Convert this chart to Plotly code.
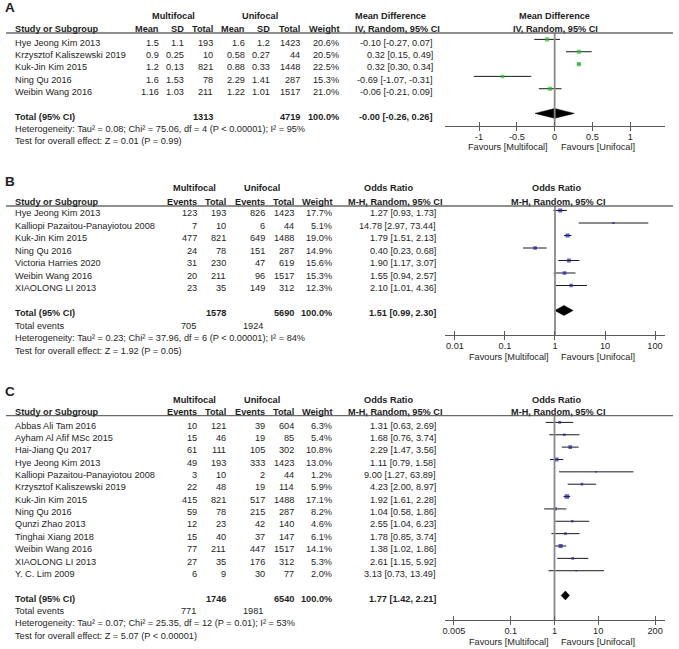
import plotly.graph_objects as go

W, H = 679, 649
FONT = "Liberation Sans, Arial, sans-serif"
FS = 9.2
TXT = "#1e1e1e"

# ---------------- Panel A data ----------------
studies_a = ["Hye Jeong Kim 2013", "Krzysztof Kaliszewski 2019", "Kuk-Jin Kim 2015",
             "Ning Qu 2016", "Weibin Wang 2016"]
mf_mean_a = [1.5, 0.9, 1.2, 1.6, 1.16]
mf_sd_a = [1.1, 0.25, 0.13, 1.53, 1.03]
mf_n_a = [193, 10, 821, 78, 211]
uf_mean_a = [1.6, 0.58, 0.88, 2.29, 1.22]
uf_sd_a = [1.2, 0.27, 0.33, 1.41, 1.01]
uf_n_a = [1423, 44, 1448, 287, 1517]
weight_a = [20.6, 20.5, 22.5, 15.3, 21.0]
md_a = [-0.10, 0.32, 0.32, -0.69, -0.06]
md_lo_a = [-0.27, 0.15, 0.30, -1.07, -0.21]
md_hi_a = [0.07, 0.49, 0.34, -0.31, 0.09]
tot_mf_a, tot_uf_a = 1313, 4719
tot_md_a, tot_lo_a, tot_hi_a = -0.001, -0.26, 0.26
het_a = "Heterogeneity: Tau² = 0.08; Chi² = 75.06, df = 4 (P &lt; 0.00001); I² = 95%"
test_a = "Test for overall effect: Z = 0.01 (P = 0.99)"
ticks_a = [-1, -0.5, 0, 0.5, 1]
ticklabels_a = ["-1", "-0.5", "0", "0.5", "1"]

# ---------------- Panel B data ----------------
studies_b = ["Hye Jeong Kim 2013", "Kalliopi Pazaitou-Panayiotou 2008", "Kuk-Jin Kim 2015",
             "Ning Qu 2016", "Victoria Harries 2020", "Weibin Wang 2016", "XIAOLONG LI 2013"]
mf_ev_b = [123, 7, 477, 24, 31, 20, 23]
mf_tot_b = [193, 10, 821, 78, 230, 211, 35]
uf_ev_b = [826, 6, 649, 151, 47, 96, 149]
uf_tot_b = [1423, 44, 1488, 287, 619, 1517, 312]
weight_b = [17.7, 5.1, 19.0, 14.9, 15.6, 15.3, 12.3]
or_b = [1.27, 14.78, 1.79, 0.40, 1.90, 1.55, 2.10]
or_lo_b = [0.93, 2.97, 1.51, 0.23, 1.17, 0.94, 1.01]
or_hi_b = [1.73, 73.44, 2.13, 0.68, 3.07, 2.57, 4.36]
tot_mf_b, tot_uf_b = 1578, 5690
tot_ev_mf_b, tot_ev_uf_b = 705, 1924
tot_or_b, tot_lo_b, tot_hi_b = 1.51, 0.99, 2.30
het_b = "Heterogeneity: Tau² = 0.23; Chi² = 37.96, df = 6 (P &lt; 0.00001); I² = 84%"
test_b = "Test for overall effect: Z = 1.92 (P = 0.05)"
ticks_b = [0.01, 0.1, 1, 10, 100]
ticklabels_b = ["0.01", "0.1", "1", "10", "100"]

# ---------------- Panel C data ----------------
studies_c = ["Abbas Ali Tam 2016", "Ayham Al Afif MSc 2015", "Hai-Jiang Qu 2017",
             "Hye Jeong Kim 2013", "Kalliopi Pazaitou-Panayiotou 2008",
             "Krzysztof Kaliszewski 2019", "Kuk-Jin Kim 2015", "Ning Qu 2016",
             "Qunzi Zhao 2013", "Tinghai Xiang 2018", "Weibin Wang 2016",
             "XIAOLONG LI 2013", "Y. C. Lim 2009"]
mf_ev_c = [10, 15, 61, 49, 3, 22, 415, 59, 12, 15, 77, 27, 6]
mf_tot_c = [121, 46, 111, 193, 10, 48, 821, 78, 23, 40, 211, 35, 9]
uf_ev_c = [39, 19, 105, 333, 2, 19, 517, 215, 42, 37, 447, 176, 30]
uf_tot_c = [604, 85, 302, 1423, 44, 114, 1488, 287, 140, 147, 1517, 312, 77]
weight_c = [6.3, 5.4, 10.8, 13.0, 1.2, 5.9, 17.1, 8.2, 4.6, 6.1, 14.1, 5.3, 2.0]
or_c = [1.31, 1.68, 2.29, 1.11, 9.00, 4.23, 1.92, 1.04, 2.55, 1.78, 1.38, 2.61, 3.13]
or_lo_c = [0.63, 0.76, 1.47, 0.79, 1.27, 2.00, 1.61, 0.58, 1.04, 0.85, 1.02, 1.15, 0.73]
or_hi_c = [2.69, 3.74, 3.56, 1.58, 63.89, 8.97, 2.28, 1.86, 6.23, 3.74, 1.86, 5.92, 13.49]
tot_mf_c, tot_uf_c = 1746, 6540
tot_ev_mf_c, tot_ev_uf_c = 771, 1981
tot_or_c, tot_lo_c, tot_hi_c = 1.77, 1.42, 2.21
het_c = "Heterogeneity: Tau² = 0.07; Chi² = 25.35, df = 12 (P = 0.01); I² = 53%"
test_c = "Test for overall effect: Z = 5.07 (P &lt; 0.00001)"
ticks_c = [0.005, 0.1, 1, 10, 200]
ticklabels_c = ["0.005", "0.1", "1", "10", "200"]

# ---------------- helpers ----------------
annotations = []
shapes = []


def ann(text, x, y, anchor="left", bold=False, size=FS):
    annotations.append(dict(
        text=f"<b>{text}</b>" if bold else text,
        x=x / W, y=1 - y / H, xref="paper", yref="paper",
        xanchor=anchor, yanchor="middle", showarrow=False,
        font=dict(family=FONT, size=size, color=TXT)))


def hline(y, x0=4, x1=673):
    shapes.append(dict(type="line", xref="paper", yref="paper",
                       x0=x0 / W, x1=x1 / W, y0=1 - y / H, y1=1 - y / H,
                       line=dict(color="#6a6a6a", width=1.3)))


def ci(v, lo, hi):
    return f"{v:.2f} [{lo:.2f}, {hi:.2f}]"


fig = go.Figure()

# layout geometry (pixels)
X0, X1 = 444, 665
panels = {
    "A": dict(text_top=42.7, mark_top=39.4, step=12.33, line_y=33.0, axis_y=126.0,
              grp_y=16.0, hdr_y=29.3, letter_y=8.0, fav_y=146.7),
    "B": dict(text_top=213.3, mark_top=210.5, step=12.5, line_y=206.0, axis_y=335.0,
              grp_y=188.3, hdr_y=201.5, letter_y=181.7, fav_y=357),
    "C": dict(text_top=425.6, mark_top=422.4, step=12.36, line_y=415.7, axis_y=620.0,
              grp_y=400.0, hdr_y=411.7, letter_y=391.0, fav_y=642),
}


def trow(p, i):
    return p["text_top"] + p["step"] * i


def yrange(p):
    return [(p["axis_y"] - p["mark_top"]) / p["step"], (p["line_y"] - p["mark_top"]) / p["step"]]


# ================= Panel A text =================
pA = panels["A"]
ann("A", 1.5, pA["letter_y"], bold=True, size=13.5)
ann("Multifocal", 172.5, pA["grp_y"], "center", True)
ann("Unifocal", 258.3, pA["grp_y"], "center", True)
ann("Mean Difference", 351.7, pA["grp_y"], "left", True)
ann("Mean Difference", 553.7, pA["grp_y"], "center", True)
colsA = [("Mean", 159), ("SD", 185), ("Total", 214), ("Mean", 246), ("SD", 271),
         ("Total", 301), ("Weight", 340)]
ann("Study or Subgroup", 11, pA["hdr_y"], "left", True)
for t, x in colsA:
    ann(t, x, pA["hdr_y"], "right", True)
ann("IV, Random, 95% CI", 351.7, pA["hdr_y"], "left", True)
ann("IV, Random, 95% CI", 555.5, pA["hdr_y"], "center", True)
hline(pA["line_y"])
for i, s in enumerate(studies_a):
    y = trow(pA, i)
    ann(s, 11, y)
    vals = [f"{mf_mean_a[i]:g}", f"{mf_sd_a[i]:g}", str(mf_n_a[i]),
            f"{uf_mean_a[i]:g}", f"{uf_sd_a[i]:g}", str(uf_n_a[i]),
            f"{weight_a[i]:.1f}%"]
    for v, (_, x) in zip(vals, colsA):
        ann(v, x, y, "right")
    ann(ci(md_a[i], md_lo_a[i], md_hi_a[i]), 434, y, "right")
nA = len(studies_a)
y = trow(pA, nA + 1)
ann("Total (95% CI)", 11, y, "left", True)
ann(str(tot_mf_a), 214, y, "right", True)
ann(str(tot_uf_a), 301, y, "right", True)
ann("100.0%", 340, y, "right", True)
ann(ci(tot_md_a, tot_lo_a, tot_hi_a), 434, y, "right", True)
ann(het_a, 11, trow(pA, nA + 2))
ann(test_a, 11, trow(pA, nA + 3))
ann("Favours [Multifocal]", 550, pA["fav_y"], "right")
ann("Favours [Unifocal]", 559, pA["fav_y"], "left")


# ================= Panels B, C text =================
def binary_text(p, letter, studies, mf_ev, mf_tot, uf_ev, uf_tot, weight, est, lo, hi,
                tmf, tuf, tev_mf, tev_uf, test_est, test_lo, test_hi, het, testtxt):
    ann(letter, 1.5, p["letter_y"], bold=True, size=13.5)
    ann("Multifocal", 193.3, p["grp_y"], "center", True)
    ann("Unifocal", 260.5, p["grp_y"], "center", True)
    ann("Odds Ratio", 361, p["grp_y"], "left", True)
    ann("Odds Ratio", 556, p["grp_y"], "center", True)
    cols = [("Events", 198), ("Total", 227), ("Events", 266), ("Total", 295), ("Weight", 333)]
    ann("Study or Subgroup", 11, p["hdr_y"], "left", True)
    for t, x in cols:
        ann(t, x, p["hdr_y"], "right", True)
    ann("M-H, Random, 95% CI", 345, p["hdr_y"], "left", True)
    ann("M-H, Random, 95% CI", 558, p["hdr_y"], "center", True)
    hline(p["line_y"])
    for i, s in enumerate(studies):
        y = trow(p, i)
        ann(s, 11, y)
        vals = [str(mf_ev[i]), str(mf_tot[i]), str(uf_ev[i]), str(uf_tot[i]), f"{weight[i]:.1f}%"]
        for v, (_, x) in zip(vals, cols):
            ann(v, x, y, "right")
        ann(ci(est[i], lo[i], hi[i]), 437, y, "right")
    n = len(studies)
    y = trow(p, n + 1)
    ann("Total (95% CI)", 11, y, "left", True)
    ann(str(tmf), 227, y, "right", True)
    ann(str(tuf), 295, y, "right", True)
    ann("100.0%", 333, y, "right", True)
    ann(ci(test_est, test_lo, test_hi), 437, y, "right", True)
    y = trow(p, n + 2)
    ann("Total events", 11, y)
    ann(str(tev_mf), 197, y, "right")
    ann(str(tev_uf), 263.5, y, "right")
    ann(het, 11, trow(p, n + 3))
    ann(testtxt, 11, trow(p, n + 4))
    ann("Favours [Multifocal]", 551, p["fav_y"], "right")
    ann("Favours [Unifocal]", 559, p["fav_y"], "left")


binary_text(panels["B"], "B", studies_b, mf_ev_b, mf_tot_b, uf_ev_b, uf_tot_b, weight_b,
            or_b, or_lo_b, or_hi_b, tot_mf_b, tot_uf_b, tot_ev_mf_b, tot_ev_uf_b,
            tot_or_b, tot_lo_b, tot_hi_b, het_b, test_b)
binary_text(panels["C"], "C", studies_c, mf_ev_c, mf_tot_c, uf_ev_c, uf_tot_c, weight_c,
            or_c, or_lo_c, or_hi_c, tot_mf_c, tot_uf_c, tot_ev_mf_c, tot_ev_uf_c,
            tot_or_c, tot_lo_c, tot_hi_c, het_c, test_c)


# ================= forest traces =================
def forest(xa, ya, xo, p, est, lo, hi, weight, color, scale, t_est, t_lo, t_hi, null_val, dh):
    n = len(est)
    yr = yrange(p)
    fig.add_trace(go.Scatter(x=[null_val, null_val], y=[yr[0], yr[1]], mode="lines",
                             line=dict(color="#8a8a8a", width=1.8), xaxis=xo, yaxis=ya,
                             hoverinfo="skip", showlegend=False))
    cx, cy = [], []
    for i in range(n):
        cx += [lo[i], hi[i], None]
        cy += [i, i, None]
    fig.add_trace(go.Scatter(x=cx, y=cy, mode="lines", line=dict(color="#1a1a1a", width=1),
                             xaxis=xa, yaxis=ya, hoverinfo="skip", showlegend=False))
    fig.add_trace(go.Scatter(x=est, y=list(range(n)), mode="markers",
                             marker=dict(symbol="square", color=color,
                                         size=[max(1.6, scale * w ** 0.5) for w in weight],
                                         line=dict(width=0)),
                             xaxis=xa, yaxis=ya, hoverinfo="skip", showlegend=False))
    ty = n + 1
    fig.add_trace(go.Scatter(x=[t_lo, t_est, t_hi, t_est, t_lo],
                             y=[ty, ty - dh, ty, ty + dh, ty], mode="lines", fill="toself",
                             fillcolor="black", line=dict(color="black", width=0.5),
                             xaxis=xa, yaxis=ya, hoverinfo="skip", showlegend=False))


forest("x", "y", "x4", panels["A"], md_a, md_lo_a, md_hi_a, weight_a, "#1fbf1f", 0.9,
       tot_md_a, tot_lo_a, tot_hi_a, 0, 0.4)
forest("x2", "y2", "x5", panels["B"], or_b, or_lo_b, or_hi_b, weight_b, "#1c1ca8", 0.95,
       tot_or_b, tot_lo_b, tot_hi_b, 1, 0.4)
forest("x3", "y3", "x6", panels["C"], or_c, or_lo_c, or_hi_c, weight_c, "#1c1ca8", 1.1,
       tot_or_c, tot_lo_c, tot_hi_c, 1, 0.36)

dom_x = [X0 / W, X1 / W]
AX = "#5a5a5a"


def xax(rng, tv, tt, typ, anchor, overlay=None):
    d = dict(domain=dom_x, range=rng, type=typ, anchor=anchor, tickmode="array",
             tickvals=tv, ticktext=tt, showgrid=False, zeroline=False, fixedrange=True,
             tickcolor=AX, tickwidth=1.2, ticklen=3.5,
             tickfont=dict(family=FONT, size=FS, color=TXT))
    if overlay is None:
        # main axis: line, labels, tick half above the line
        d.update(showline=True, linecolor=AX, linewidth=1.3, ticks="inside",
                 ticklabelstandoff=2)
    else:
        # overlay axis: tick half below the line (no labels)
        d.update(overlaying=overlay, showline=False, ticks="outside", showticklabels=False)
    return d


def yax(p):
    return dict(domain=[1 - p["axis_y"] / H, 1 - p["line_y"] / H], range=yrange(p),
                visible=False, fixedrange=True)


rA = [-1.455, 1.46]
rB = [-2.205, 2.2]
rC = [-2.513, 2.529]

fig.update_layout(
    width=W, height=H, margin=dict(l=0, r=0, t=0, b=0),
    paper_bgcolor="white", plot_bgcolor="rgba(0,0,0,0)", showlegend=False,
    xaxis=xax(rA, ticks_a, ticklabels_a, "linear", "y"),
    xaxis2=xax(rB, ticks_b, ticklabels_b, "log", "y2"),
    xaxis3=xax(rC, ticks_c, ticklabels_c, "log", "y3"),
    xaxis4=xax(rA, ticks_a, ticklabels_a, "linear", "y", overlay="x"),
    xaxis5=xax(rB, ticks_b, ticklabels_b, "log", "y2", overlay="x2"),
    xaxis6=xax(rC, ticks_c, ticklabels_c, "log", "y3", overlay="x3"),
    yaxis=yax(panels["A"]), yaxis2=yax(panels["B"]), yaxis3=yax(panels["C"]),
    annotations=annotations, shapes=shapes,
)

fig.write_html("out.html", config={"displayModeBar": False},
               post_script="document.body.style.margin='0px';document.body.style.overflow='hidden';")
